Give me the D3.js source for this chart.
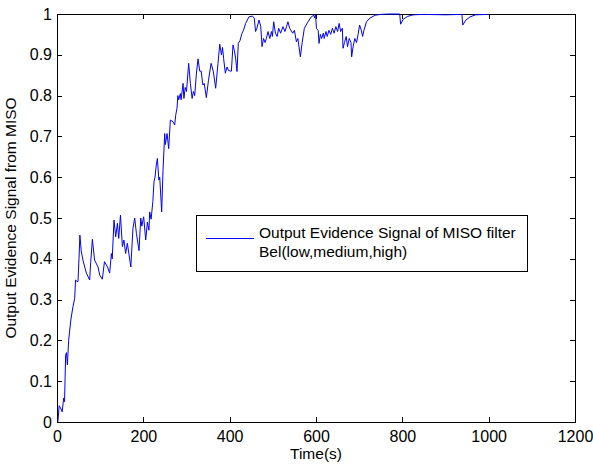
<!DOCTYPE html>
<html>
<head>
<meta charset="utf-8">
<script src="https://cdnjs.cloudflare.com/ajax/libs/d3/7.8.5/d3.min.js"></script>
<style>
  body { margin: 0; background: #fff; }
  svg text { font-family: "Liberation Sans", Arial, sans-serif; fill: #000; }
  .axis path, .axis line { stroke: #000; shape-rendering: crispEdges; }
  .axis text { font-size: 16px; }
</style>
</head>
<body>
<div id="chart"></div>
<script>
// readings
var times = [0, 2, 5, 8, 12, 15.5, 17.5, 20, 22, 24, 27, 32, 37, 41, 43, 46, 48.6, 51, 53, 56,
  60, 68, 75.7, 78, 82, 87, 95, 99, 105, 110, 117, 122, 126, 128, 132, 136, 140, 143, 147, 151.5,
  155, 159, 163, 171, 176, 180, 184, 190, 194, 196.5, 200.8, 205.5, 209.4, 213, 214.7, 218, 222, 224.7, 227, 230,
  232.6, 236, 238, 242.5, 245.6, 249.5, 251, 255, 258.7, 262.6, 268.8, 272.6, 275, 278, 280, 282, 285.8, 287.5, 292, 294,
  297, 300, 305, 309, 313, 316, 319, 323, 326.7, 330.6, 334, 338, 341, 346, 351, 357, 362, 367.6, 373, 377,
  381, 383.5, 386, 390, 394, 397, 401, 404, 407.7, 411, 414, 417, 420, 424, 428.6, 432, 437, 444.8, 452.6, 457,
  460, 463, 468, 472, 475, 478.6, 482, 485, 489, 493, 497, 499, 502, 506, 510, 513.6, 518, 523.6, 528, 532,
  535, 539, 546, 550, 554.6, 558, 563.8, 568, 573, 581, 589, 595, 597, 599, 601, 605, 607, 610, 613, 617,
  619, 623, 626, 630, 634, 638, 642, 646, 650, 653.6, 657, 661, 662.6, 666, 670, 673, 677, 681, 682.6, 686,
  690, 694, 698, 701, 705, 708, 711, 717, 725, 737, 749, 770, 794, 796, 802, 812, 825, 850, 900, 938,
  940, 947, 957, 970, 1000];

var evidence = [0, 0, 0.04, 0.035, 0.025, 0.059, 0.05, 0.164, 0.17, 0.14, 0.2, 0.25, 0.283, 0.303, 0.348, 0.345, 0.344, 0.40, 0.458, 0.42,
  0.397, 0.365, 0.348, 0.39, 0.448, 0.397, 0.38, 0.36, 0.35, 0.393, 0.38, 0.365, 0.413, 0.40, 0.495, 0.454, 0.487, 0.45, 0.507, 0.43,
  0.446, 0.413, 0.438, 0.38, 0.475, 0.50, 0.462, 0.42, 0.50, 0.48, 0.503, 0.446, 0.49, 0.47, 0.515, 0.497, 0.54, 0.589, 0.60, 0.63,
  0.646, 0.593, 0.60, 0.515, 0.617, 0.707, 0.68, 0.707, 0.67, 0.74, 0.736, 0.728, 0.752, 0.769, 0.80, 0.79, 0.805, 0.79, 0.83, 0.793,
  0.82, 0.81, 0.879, 0.83, 0.793, 0.81, 0.80, 0.855, 0.89, 0.86, 0.86, 0.826, 0.83, 0.795, 0.838, 0.879, 0.86, 0.818, 0.879, 0.926,
  0.90, 0.918, 0.891, 0.855, 0.87, 0.862, 0.86, 0.86, 0.924, 0.91, 0.89, 0.859, 0.928, 0.935, 0.953, 0.96, 0.977, 0.993, 0.995, 0.99,
  0.957, 0.965, 0.985, 0.97, 0.92, 0.94, 0.93, 0.94, 0.957, 0.94, 0.957, 0.945, 0.981, 0.953, 0.945, 0.965, 0.953, 0.969, 0.957, 0.97,
  0.981, 0.965, 0.953, 0.96, 0.932, 0.94, 0.895, 0.93, 0.965, 0.98, 0.993, 0.997, 0.99, 0.999, 0.965, 0.96, 0.928, 0.95, 0.94, 0.953,
  0.94, 0.957, 0.945, 0.96, 0.95, 0.965, 0.953, 0.969, 0.957, 0.977, 0.957, 0.965, 0.916, 0.93, 0.945, 0.92, 0.94, 0.93, 0.895, 0.92,
  0.94, 0.93, 0.953, 0.973, 0.96, 0.945, 0.96, 0.981, 0.99, 0.997, 0.999, 1.0, 1.0, 0.975, 0.987, 0.994, 0.998, 0.999, 0.998, 0.999,
  0.973, 0.985, 0.993, 0.998, 0.999];

var xTicks = [0, 200, 400, 600, 800, 1000, 1200];
var yTicks = [0, 0.1, 0.2, 0.3, 0.4, 0.5, 0.6, 0.7, 0.8, 0.9, 1];
var legendLines = ["Output Evidence Signal of MISO filter", "Bel(low,medium,high)"];

var W = 593, H = 466;
var margin = {left: 57, top: 14, right: 18, bottom: 44};
var width = W - margin.left - margin.right, height = H - margin.top - margin.bottom;

var svg = d3.select("#chart").append("svg")
    .attr("width", W)
    .attr("height", H)
  .append("g")
    .attr("transform", "translate(" + margin.left + "," + margin.top + ")");

var x = d3.scaleLinear().domain([0, 1200]).range([0, width]);
var y = d3.scaleLinear().domain([0, 1]).range([height, 0]);

var data = times.map(function(t, i){ return {t: t, v: evidence[i]}; });

// axes, ticks pointing inward like matlab
svg.append("g")
    .attr("class", "axis")
    .attr("transform", "translate(0," + height + ")")
    .call(d3.axisBottom(x).tickValues(xTicks).tickSizeInner(-5).tickSizeOuter(0).tickPadding(9)
      .tickFormat(function(d){ return String(d); }));
svg.append("g")
    .attr("class", "axis")
    .call(d3.axisTop(x).tickValues(xTicks).tickSizeInner(-5).tickSizeOuter(0).tickFormat(""));
svg.append("g")
    .attr("class", "axis")
    .call(d3.axisLeft(y).tickValues(yTicks).tickSizeInner(-5).tickSizeOuter(0).tickPadding(5)
      .tickFormat(function(d){ return String(+d.toFixed(1)); }));
svg.append("g")
    .attr("class", "axis")
    .attr("transform", "translate(" + width + ",0)")
    .call(d3.axisRight(y).tickValues(yTicks).tickSizeInner(-5).tickSizeOuter(0).tickFormat(""));

svg.selectAll(".axis text").attr("fill", "#000");

// the signal
var line = d3.line()
  .x(function(d){ return x(d.t); })
  .y(function(d){ return y(d.v); });

svg.append("path")
  .datum(data)
  .attr("fill", "none")
  .attr("stroke", "#0000ff")
  .attr("stroke-width", 1)
  .attr("d", line);

// axis titles
svg.append("text")
  .attr("x", width / 2)
  .attr("y", height + 37)
  .attr("text-anchor", "middle")
  .style("font-size", "15.5px")
  .text("Time(s)");

svg.append("text")
  .attr("transform", "translate(" + (-41) + "," + (height / 2) + ") rotate(-90)")
  .attr("text-anchor", "middle")
  .style("font-size", "15.5px")
  .text("Output Evidence Signal from MISO");

// legend
var legend = svg.append("g")
  .attr("transform", "translate(" + (196 - margin.left) + "," + (215 - margin.top) + ")");

legend.append("rect")
  .attr("x", 0.5).attr("y", 0.5)
  .attr("width", 331).attr("height", 56)
  .attr("fill", "#fff")
  .attr("stroke", "#000")
  .attr("stroke-width", 1);

legend.append("line")
  .attr("x1", 10).attr("x2", 58)
  .attr("y1", 23.5).attr("y2", 23.5)
  .attr("stroke", "#0000ff")
  .attr("stroke-width", 1);

legend.selectAll(".leg-text")
    .data(legendLines)
  .enter().append("text")
    .attr("class", "leg-text")
    .attr("x", 63)
    .attr("y", function(d, i){ return 23 + i * 19; })
    .style("font-size", "15.5px")
    .text(function(d){ return d; });
</script>
</body>
</html>
